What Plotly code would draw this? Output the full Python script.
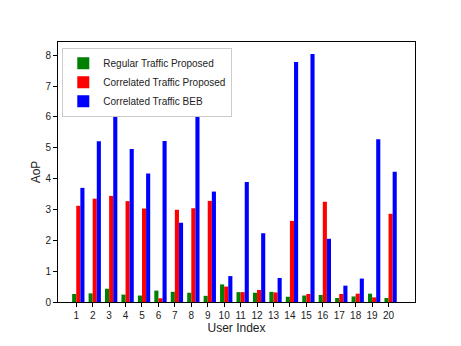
import plotly.graph_objects as go

# AoP per user
users = list(range(1, 21))
regular_proposed = [0.26, 0.28, 0.43, 0.24, 0.21, 0.37, 0.33, 0.30, 0.20, 0.57,
                    0.32, 0.30, 0.33, 0.17, 0.21, 0.23, 0.13, 0.18, 0.27, 0.13]
correlated_proposed = [3.12, 3.35, 3.44, 3.27, 3.03, 0.12, 2.99, 3.04, 3.28, 0.50,
                       0.32, 0.39, 0.31, 2.63, 0.26, 3.25, 0.26, 0.27, 0.15, 2.86]
correlated_beb = [3.70, 5.21, 6.48, 4.96, 4.17, 5.22, 2.57, 6.25, 3.58, 0.84,
                  3.89, 2.23, 0.78, 7.78, 8.04, 2.05, 0.53, 0.76, 5.28, 4.22]

series = [
    ("Regular Traffic Proposed", regular_proposed, "#008000", -0.125),
    ("Correlated Traffic Proposed", correlated_proposed, "#ff0000", 0.125),
    ("Correlated Traffic BEB", correlated_beb, "#0000ff", 0.375),
]

font = "Liberation Sans, Arial, sans-serif"

fig = go.Figure()
for name, vals, color, off in series:
    fig.add_trace(go.Bar(x=users, y=vals, name=name, width=0.25, offset=off - 0.125,
                         marker=dict(color=color, line=dict(width=0))))

# the page body has an 8px margin, so the margins below are shifted to compensate
fig.update_layout(
    width=461, height=346,
    margin=dict(l=50, r=54, t=34, b=52),
    barmode="overlay",
    paper_bgcolor="white", plot_bgcolor="white",
    font=dict(family=font, size=10, color="#222"),
    showlegend=True,
    legend=dict(x=0.012, y=0.978, xanchor="left", yanchor="top",
                bgcolor="white", bordercolor="#cccccc", borderwidth=1,
                font=dict(size=10), tracegroupgap=0, itemwidth=30),
    xaxis=dict(range=[-0.11, 21.61], tickvals=users, ticks="outside", ticklen=4,
               showgrid=False, zeroline=False, showline=True, linecolor="black",
               linewidth=1, mirror=True, tickcolor="black", automargin=False,
               title=dict(text="User Index", standoff=2)),
    yaxis=dict(range=[0, 8.43], tickvals=list(range(0, 9)), ticks="outside", ticklen=4,
               showgrid=False, zeroline=False, showline=True, linecolor="black",
               linewidth=1, mirror=True, tickcolor="black", automargin=False,
               title=dict(text="AoP", standoff=2)),
)

fig.write_html("out.html")
